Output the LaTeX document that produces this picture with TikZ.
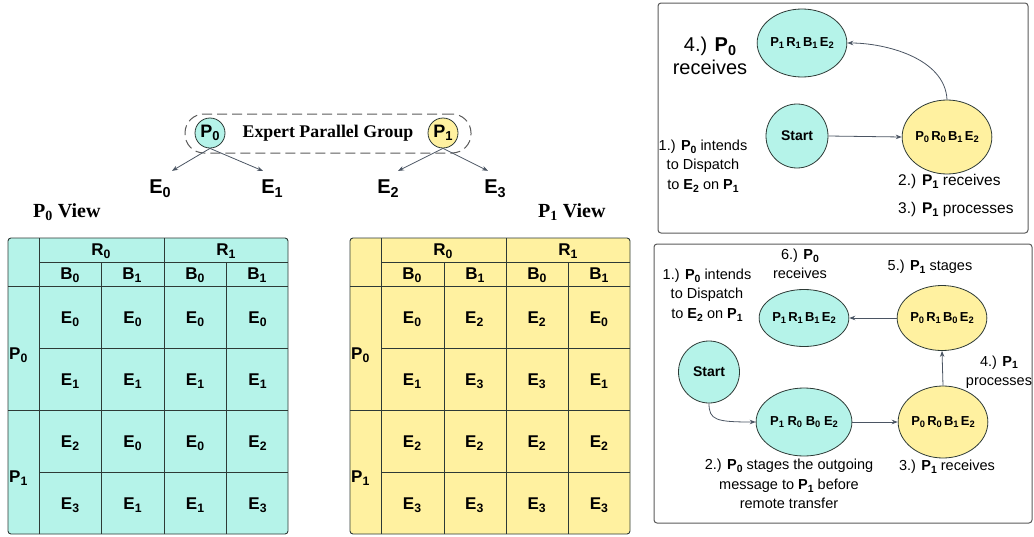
\documentclass[tikz,border=0pt]{standalone}
\usepackage{fontspec}
\usepackage{graphicx}
\setmainfont{Liberation Sans}
\newfontfamily\titlefont{Liberation Serif}
\usetikzlibrary{arrows.meta,shapes.geometric}
\definecolor{cy}{RGB}{181,243,233}
\definecolor{ye}{RGB}{255,241,160}
\definecolor{ln}{RGB}{45,58,54}
\definecolor{ar}{RGB}{75,85,99}
\definecolor{bx}{RGB}{90,90,90}
\newcommand\sbx[1]{\raisebox{-0.2em}{\scalebox{0.72}{#1}}}
\newcommand\sbs[1]{\textsubscript{#1}}
\begin{document}
\begin{tikzpicture}[x=1pt,y=-1pt,
  tline/.style={draw=ln,line width=0.9pt},
  cell/.style={font=\fontsize{17}{19}\selectfont\bfseries,inner sep=1pt},
  pc/.style={circle,draw=ln,line width=0.8pt,minimum size=30pt,inner sep=0pt,font=\fontsize{18}{20}\selectfont\bfseries},
  elab/.style={font=\fontsize{20}{22}\selectfont\bfseries,inner sep=1pt},
  ttl/.style={font=\fontsize{20}{22}\selectfont\titlefont\bfseries,inner sep=0pt},
  arr/.style={draw=ar,line width=0.8pt,-{Stealth[length=6pt,width=4.5pt]}},
  st/.style={ellipse,draw=ln,line width=0.8pt,inner sep=0pt,font=\fontsize{13}{15}\selectfont\bfseries},
  lab/.style={align=center,font=\fontsize{14.5}{19.5}\selectfont,inner sep=0pt},
  boxl/.style={draw=bx,line width=1pt,rounded corners=3pt}
]
\useasboundingbox (0,0) rectangle (1034,536);

% ---------- top group ----------
\node[draw=bx,dashed,dash pattern=on 10pt off 5pt,line width=1pt,rounded corners=19pt,minimum width=286pt,minimum height=39pt,inner sep=0pt] (grp) at (328,133.5) {};
\node[pc,fill=cy] (gp0) at (210,133) {P\sbx{0}};
\node[pc,fill=ye] (gp1) at (443,133) {P\sbx{1}};
\node[font=\fontsize{17.8}{19}\selectfont\titlefont\bfseries] (epg) at (328,133) {Expert Parallel Group};
\node[elab] (e0) at (160,189) {E\sbx{0}};
\node[elab] (e1) at (272,189) {E\sbx{1}};
\node[elab] (e2) at (388,189) {E\sbx{2}};
\node[elab] (e3) at (495,189) {E\sbx{3}};
\draw[arr] (gp0.south) -- ([xshift=12pt,yshift=8pt]e0.north);
\draw[arr] (gp0.south) -- ([xshift=-9pt,yshift=8pt]e1.north);
\draw[arr] (gp1.south) -- ([xshift=10pt,yshift=8pt]e2.north);
\draw[arr] (gp1.south) -- ([xshift=-7pt,yshift=8pt]e3.north);

\node[ttl,anchor=west] (v0) at (33,212) {P\sbs{0} View};
\node[ttl,anchor=west] (v1) at (538,212) {P\sbs{1} View};

% ---------- left table ----------
\draw[tline,fill=cy,rounded corners=3pt] (8,238) rectangle (288,534);
\draw[tline] (39,238) -- (39,534) (164,238) -- (164,534);
\draw[tline] (101,262) -- (101,534) (226,262) -- (226,534);
\draw[tline] (39,262) -- (288,262);
\draw[tline] (8,286) -- (288,286) (8,410) -- (288,410);
\draw[tline] (39,348) -- (288,348) (39,472) -- (288,472);
\node[cell] (lr0) at (101,251) {R\sbx{0}};
\node[cell] (lr1) at (226,251) {R\sbx{1}};
\node[cell] (lb0) at (70,275) {B\sbx{0}};
\node[cell] (lb1) at (132,275) {B\sbx{1}};
\node[cell] (lb2) at (195,275) {B\sbx{0}};
\node[cell] (lb3) at (257,275) {B\sbx{1}};
\node[cell,anchor=west] (lp0) at (8,355) {P\sbx{0}};
\node[cell,anchor=west] (lp1) at (8,478) {P\sbx{1}};
\foreach \row [count=\i] in {{0,0,0,0},{1,1,1,1},{2,0,0,2},{3,1,1,3}}{
  \foreach \e [count=\j] in \row {
    \node[cell] (L-\i-\j) at ({70+(\j-1)*62.5},{319+(\i-1)*62}) {E\sbx{\e}};
  }
}

% ---------- right table ----------
\draw[tline,fill=ye,rounded corners=3pt] (350,238) rectangle (630,534);
\draw[tline] (381,238) -- (381,534) (506,238) -- (506,534);
\draw[tline] (444,262) -- (444,534) (568,262) -- (568,534);
\draw[tline] (381,262) -- (630,262);
\draw[tline] (350,286) -- (630,286) (350,410) -- (630,410);
\draw[tline] (381,348) -- (630,348) (381,472) -- (630,472);
\node[cell] (rr0) at (443,251) {R\sbx{0}};
\node[cell] (rr1) at (568,251) {R\sbx{1}};
\node[cell] (rb0) at (412,275) {B\sbx{0}};
\node[cell] (rb1) at (475,275) {B\sbx{1}};
\node[cell] (rb2) at (537,275) {B\sbx{0}};
\node[cell] (rb3) at (599,275) {B\sbx{1}};
\node[cell,anchor=west] (rp0) at (350,355) {P\sbx{0}};
\node[cell,anchor=west] (rp1) at (350,478) {P\sbx{1}};
\foreach \row [count=\i] in {{0,2,2,0},{1,3,3,1},{2,2,2,2},{3,3,3,3}}{
  \foreach \e [count=\j] in \row {
    \node[cell] (R-\i-\j) at ({412+(\j-1)*62.3},{319+(\i-1)*62}) {E\sbx{\e}};
  }
}

% ---------- top-right box ----------
\draw[boxl] (658,3) rectangle (1028,233);
\node[st,fill=cy,minimum width=76pt,minimum height=68pt] (t1) at (802,43) {P\sbx{1}\,R\sbx{1}\,B\sbx{1}\,E\sbx{2}};
\node[st,fill=cy,minimum width=62pt,minimum height=64pt,font=\fontsize{14}{16}\selectfont\bfseries] (ts) at (797,136) {Start};
\node[st,fill=ye,minimum width=77pt,minimum height=74pt] (t2) at (947,137) {P\sbx{0}\,R\sbx{0}\,B\sbx{1}\,E\sbx{2}};
\draw[arr] (ts.east) -- (t2.west);
\draw[arr] (t2.north) .. controls (945,58) and (885,43) .. (t1.east);
\node[lab,font=\fontsize{20}{23}\selectfont] (t4) at (710,56) {4.) \textbf{P\sbx{0}}\\receives};
\node[lab] (t1l) at (703,166) {1.) \textbf{P\sbx{0}} intends\\to Dispatch\\to \textbf{E\sbx{2}} on \textbf{P\sbx{1}}};
\node[lab,anchor=west,font=\fontsize{15.5}{18}\selectfont] (t2l) at (898,181) {2.) \textbf{P\sbx{1}} receives};
\node[lab,anchor=west,font=\fontsize{15.5}{18}\selectfont] (t3l) at (898,209) {3.) \textbf{P\sbx{1}} processes};

% ---------- bottom-right box ----------
\draw[boxl] (654,244) rectangle (1032,523);
\node[st,fill=cy,minimum width=75pt,minimum height=57pt] (b6) at (804,318) {P\sbx{1}\,R\sbx{1}\,B\sbx{1}\,E\sbx{2}};
\node[st,fill=ye,minimum width=75pt,minimum height=65pt] (b5) at (942,318) {P\sbx{0}\,R\sbx{1}\,B\sbx{0}\,E\sbx{2}};
\node[st,fill=cy,minimum width=61pt,minimum height=62pt,font=\fontsize{14}{16}\selectfont\bfseries] (bs) at (709,372) {Start};
\node[st,fill=cy,minimum width=83pt,minimum height=68pt] (b2) at (804,422) {P\sbx{1} R\sbx{0} B\sbx{0} E\sbx{2}};
\node[st,fill=ye,minimum width=78pt,minimum height=72pt] (b3) at (943,422) {P\sbx{0}\,R\sbx{0}\,B\sbx{1}\,E\sbx{2}};
\draw[arr] (bs.south) .. controls (709,420) and (716,422) .. (b2.west);
\draw[arr] (b2.east) -- (b3.west);
\draw[arr] (b3.north) -- (b5.south);
\draw[arr] (b5.west) -- (b6.east);
\node[lab] (b6l) at (800,264) {6.) \textbf{P\sbx{0}}\\receives};
\node[lab] (b5l) at (930,267) {5.) \textbf{P\sbx{1}} stages};
\node[lab] (b1l) at (707,295) {1.) \textbf{P\sbx{0}} intends\\to Dispatch\\to \textbf{E\sbx{2}} on \textbf{P\sbx{1}}};
\node[lab] (b4l) at (999,372) {4.) \textbf{P\sbx{1}}\\processes};
\node[lab] (b2l) at (789,484) {2.) \textbf{P\sbx{0}} stages the outgoing\\message to \textbf{P\sbx{1}} before\\remote transfer};
\node[lab] (b3l) at (947,467) {3.) \textbf{P\sbx{1}} receives};
\end{tikzpicture}
\end{document}
